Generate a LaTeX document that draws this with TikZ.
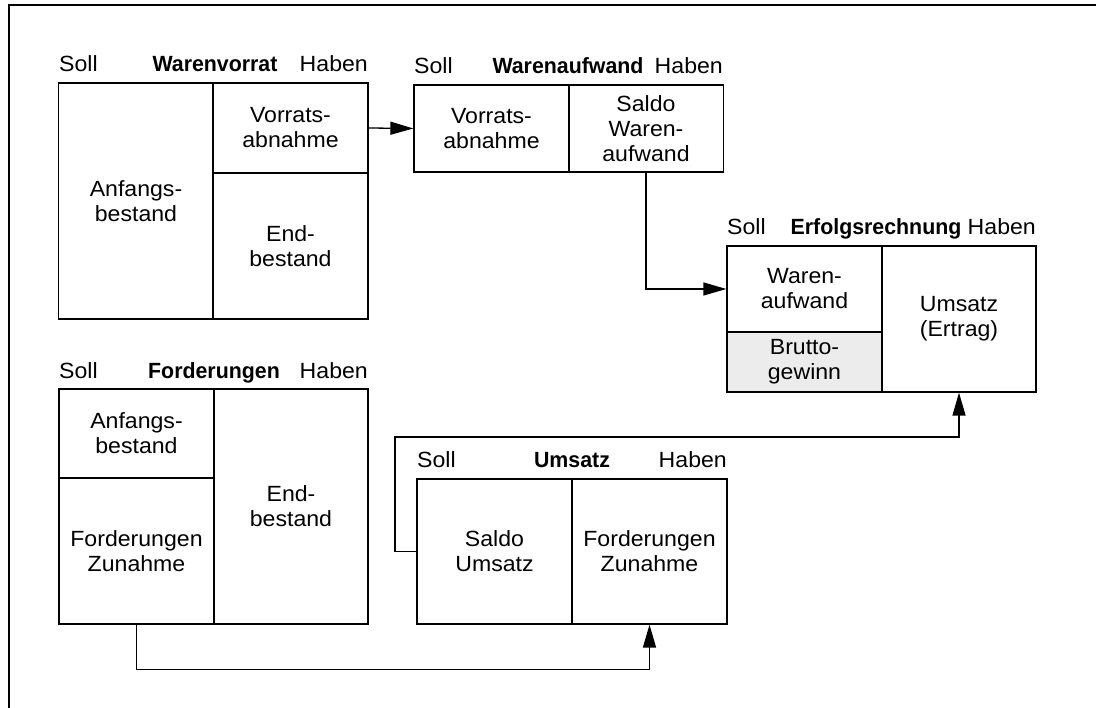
\documentclass[tikz,border=0pt]{standalone}
\usepackage{fontspec}
\setmainfont{Liberation Sans}[FakeStretch=1.05,BoldFeatures={FakeStretch=0.97}]
\usetikzlibrary{arrows.meta,positioning}

\begin{document}
\begin{tikzpicture}[x=1pt,y=1pt,
  font=\fontsize{22}{25}\selectfont,
  cell/.style={draw,line width=1.3pt,inner sep=0pt,align=center,minimum width=155pt},
  hd/.style={inner sep=0pt},
  conn/.style={->,line width=1.3pt},
  >={Triangle[length=23pt,width=13pt]}]
\useasboundingbox (0,0) rectangle (1096,708);
\draw[line width=2pt] (8.5,0) -- (8.5,702.5) -- (1096,702.5);
% Warenvorrat
\node[hd,anchor=base west] at (59,636) {Soll};
\node[hd,anchor=base] at (215,636) {\textbf{Warenvorrat}};
\node[hd,anchor=base east] at (368,636) {Haben};
\node[cell,minimum height=236pt] (V1) at (136,507) {Anfangs-\\bestand};
\node[cell,minimum height=90pt] (V2) at (290.5,580) {Vorrats-\\abnahme};
\node[cell,minimum height=146pt] (V3) at (290.5,462) {End-\\bestand};
% Warenaufwand
\node[hd,anchor=base west] at (414,634) {Soll};
\node[hd,anchor=base] at (568,634) {\textbf{Warenaufwand}};
\node[hd,anchor=base east] at (723,634) {Haben};
\node[cell,minimum height=87pt] (A1) at (491.5,579.5) {Vorrats-\\abnahme};
\node[cell,minimum height=87pt] (A2) at (646,579.5) {Saldo\\Waren-\\aufwand};
% Erfolgsrechnung
\node[hd,anchor=base west] at (727,473) {Soll};
\node[hd,anchor=base] at (876,473) {\textbf{Erfolgsrechnung}};
\node[hd,anchor=base east] at (1036,473) {Haben};
\node[cell,minimum height=86pt] (E1) at (804.5,419) {Waren-\\aufwand};
\node[cell,minimum height=60pt,fill=gray!15] (E2) at (804.5,346) {Brutto-\\gewinn};
\node[cell,minimum height=146pt,minimum width=154pt] (E3) at (959,389) {Umsatz\\(Ertrag)};
% Forderungen
\node[hd,anchor=base west] at (59,329) {Soll};
\node[hd,anchor=base] at (214,329) {\textbf{Forderungen}};
\node[hd,anchor=base east] at (368,329) {Haben};
\node[cell,minimum height=89pt] (F1) at (136.5,274.5) {Anfangs-\\bestand};
\node[cell,minimum height=146pt] (F2) at (136.5,157) {Forderungen\\Zunahme};
\node[cell,minimum height=235pt,minimum width=154pt] (F3) at (291,201.5) {End-\\bestand};
% Umsatz
\node[hd,anchor=base west] at (417,240) {Soll};
\node[hd,anchor=base] at (572,240) {\textbf{Umsatz}};
\node[hd,anchor=base east] at (727,240) {Haben};
\node[cell,minimum height=145pt] (U1) at (494.5,156.5) {Saldo\\Umsatz};
\node[cell,minimum height=145pt] (U2) at (649.5,156.5) {Forderungen\\Zunahme};
% connectors
\coordinate (k) at (395,271);
\draw[conn] (V2.east) -- (A1.west);
\draw[conn] (A2.south) |- (E1.west);
\draw[conn] (F2.south) -- ++(0,-45) -| (U2.south);
\draw[conn] (U1.west) -| (k) -| (E3.south);
\end{tikzpicture}
\end{document}
